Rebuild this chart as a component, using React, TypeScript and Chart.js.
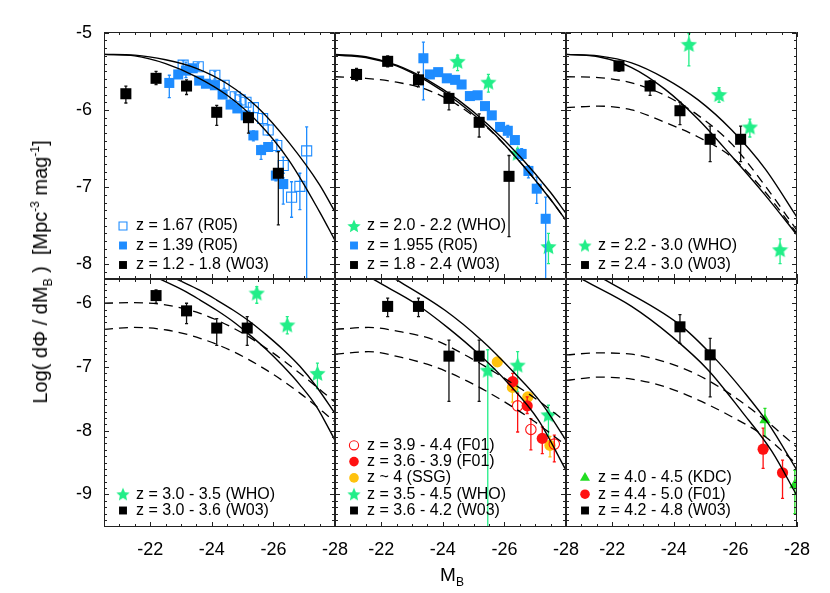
import React, { useEffect, useRef } from 'react';
import { Chart, registerables } from 'chart.js';
import { drawPoint } from 'chart.js/helpers';

Chart.register(...registerables);

const FONT = '"Liberation Sans", Arial, Helvetica, sans-serif';

// ---------------- axes ----------------
const X_RANGE = [-28, -20.5];
const Y_RANGE_TOP = [-8.19, -4.99];
const Y_RANGE_BOTTOM = [-9.51, -5.62];
const X_TICKS = [-22, -24, -26, -28];
const Y_TICKS_TOP = [-5, -6, -7, -8];
const Y_TICKS_BOTTOM = [-6, -7, -8, -9];

// ---------------- data: rows are [M_B, log phi, lower bound, upper bound] ----------------
// Panel 1
const P1_R05_OPEN = [
  [-23.07, -5.42, -5.48, -5.36], [-23.56, -5.44, -5.49, -5.39], [-24.10, -5.55, -5.60, -5.50],
  [-24.40, -5.68, -5.72, -5.63], [-24.76, -5.83, -5.88, -5.78], [-24.92, -5.87, -5.92, -5.82],
  [-25.11, -5.90, -5.96, -5.85], [-25.35, -5.97, -6.03, -5.91], [-25.65, -6.11, -6.18, -6.05],
  [-25.83, -6.26, -6.33, -6.19], [-26.11, -6.46, -6.54, -6.38], [-26.32, -6.72, -6.82, -6.61],
  [-26.59, -7.13, -7.39, -6.93], [-26.86, -6.99, -7.29, -6.82], [-27.08, -6.53, -8.60, -6.22],
];
const P1_R05 = [
  [-22.62, -5.65, -5.84, -5.55], [-22.91, -5.54, null, null], [-23.16, -5.49, -5.58, -5.38],
  [-23.38, -5.46, null, null], [-23.59, -5.62, null, null], [-23.81, -5.66, null, null],
  [-24.10, -5.68, null, null], [-24.35, -5.80, null, null], [-24.61, -5.93, null, null],
  [-24.83, -5.98, null, null], [-25.10, -6.07, null, null], [-25.35, -6.33, -6.40, -6.27],
  [-25.60, -6.52, -6.64, -6.46], [-25.83, -6.48, null, null], [-26.08, -6.85, -6.92, -6.79],
  [-26.32, -6.96, -7.22, -6.88],
];
const P1_W03 = [
  [-21.21, -5.79, -5.91, -5.69], [-22.19, -5.59, -5.67, -5.50], [-23.18, -5.69, -5.80, -5.61],
  [-24.16, -6.03, -6.20, -5.94], [-25.19, -6.10, -6.30, -6.03], [-26.16, -6.82, -7.49, -6.54],
];
const P1_FIT_A = [[-20.5, -5.28], [-21.5, -5.29], [-22.5, -5.35], [-23.5, -5.46], [-24.5, -5.66], [-25.5, -5.97], [-26.5, -6.42], [-27.5, -6.97], [-28, -7.32]];
const P1_FIT_B = [[-20.5, -5.28], [-21.5, -5.30], [-22.5, -5.40], [-23.5, -5.57], [-24.5, -5.81], [-25.5, -6.16], [-26.5, -6.65], [-27.5, -7.32], [-28, -7.69]];

// Panel 2
const P2_WHO = [[-24.48, -5.37, -5.49, -5.29], [-25.48, -5.64, -5.77, -5.54], [-26.43, -6.56, -6.62, -6.50], [-27.43, -7.77, -7.99, -7.60]];
const P2_R05 = [
  [-23.37, -5.33, -5.87, -5.12], [-23.58, -5.54, null, null], [-23.85, -5.51, null, null],
  [-24.13, -5.59, null, null], [-24.40, -5.61, null, null], [-24.61, -5.67, null, null],
  [-24.88, -5.82, null, null], [-25.13, -5.81, null, null], [-25.37, -5.95, null, null],
  [-25.59, -6.07, null, null], [-25.86, -6.22, null, null], [-26.11, -6.27, -6.35, -6.20],
  [-26.34, -6.39, null, null], [-26.56, -6.57, -6.65, -6.50], [-26.78, -6.79, -6.88, -6.72],
  [-27.05, -7.02, -7.21, -6.87], [-27.34, -7.41, -8.60, -7.13],
];
const P2_W03 = [
  [-21.20, -5.54, -5.62, -5.46], [-22.21, -5.37, -5.44, -5.30], [-23.21, -5.61, -5.70, -5.51],
  [-24.20, -5.85, -6.00, -5.77], [-25.18, -6.16, -6.35, -6.05], [-26.15, -6.86, -7.64, -6.59],
];
const P2_FIT_A = [[-20.5, -5.28], [-21.5, -5.31], [-22.5, -5.42], [-23.5, -5.61], [-24.5, -5.87], [-25.5, -6.20], [-26.5, -6.60], [-27.5, -7.07], [-28, -7.34]];
const P2_FIT_B = [[-20.5, -5.29], [-21.5, -5.32], [-22.5, -5.43], [-23.5, -5.63], [-24.5, -5.90], [-25.5, -6.24], [-26.5, -6.67], [-27.5, -7.16], [-28, -7.43]];
const P2_DASH = [[-20.5, -5.57], [-21.5, -5.59], [-22.5, -5.64], [-23.5, -5.74], [-24.5, -5.94], [-25.5, -6.25], [-26.5, -6.67], [-27.5, -7.16], [-28, -7.43]];

// Panel 3
const P3_WHO = [[-24.49, -5.15, -5.43, -5.01], [-25.47, -5.80, -5.90, -5.71], [-26.47, -6.22, -6.35, -6.12], [-27.45, -7.81, -7.99, -7.67]];
const P3_W03 = [
  [-22.22, -5.43, -5.50, -5.37], [-23.23, -5.69, -5.81, -5.62], [-24.20, -6.01, -6.19, -5.90],
  [-25.18, -6.38, -6.67, -6.21], [-26.17, -6.38, -6.67, -6.21],
];
const P3_FIT_A = [[-20.5, -5.28], [-21.55, -5.30], [-22.63, -5.39], [-23.71, -5.59], [-24.79, -5.87], [-25.88, -6.26], [-26.96, -6.76], [-28, -7.39]];
const P3_FIT_B = [[-20.5, -5.28], [-21.55, -5.31], [-22.63, -5.45], [-23.71, -5.73], [-24.79, -6.12], [-25.88, -6.60], [-26.96, -7.10], [-28, -7.62]];
const P3_DASH_A = [[-20.5, -5.57], [-21.55, -5.58], [-22.63, -5.65], [-23.71, -5.81], [-24.79, -6.07], [-25.88, -6.44], [-26.96, -6.98], [-28, -7.56]];
const P3_DASH_B = [[-20.5, -5.97], [-21.55, -5.95], [-22.63, -6.00], [-23.71, -6.16], [-24.79, -6.35], [-25.88, -6.61], [-26.96, -7.06], [-28, -7.60]];

// Panel 4
const P4_WHO = [[-25.46, -5.84, -6.00, -5.74], [-26.45, -6.34, -6.48, -6.21], [-27.43, -7.10, -7.34, -6.94]];
const P4_W03 = [[-22.19, -5.88, -6.00, -5.79], [-23.18, -6.12, -6.32, -6.00], [-24.16, -6.39, -6.66, -6.24], [-25.15, -6.39, -6.66, -6.21]];
const P4_FIT_A = [[-22.0, -5.42], [-22.91, -5.635], [-23.62, -5.80], [-24.16, -5.95], [-24.70, -6.11], [-25.24, -6.29], [-25.78, -6.50], [-26.32, -6.73], [-26.86, -6.99], [-27.40, -7.31], [-28, -7.73]];
const P4_FIT_B = [[-21.5, -5.45], [-22.37, -5.635], [-23.08, -5.80], [-23.62, -5.95], [-24.16, -6.11], [-24.70, -6.29], [-25.24, -6.50], [-25.78, -6.73], [-26.32, -6.99], [-26.86, -7.28], [-27.40, -7.62], [-28, -8.15]];
const P4_DASH_A = [[-20.5, -6.00], [-21.45, -5.99], [-22.54, -6.03], [-23.62, -6.16], [-24.70, -6.39], [-25.78, -6.71], [-26.86, -7.10], [-28, -7.55]];
const P4_DASH_B = [[-20.5, -6.41], [-21.45, -6.38], [-22.54, -6.42], [-23.62, -6.55], [-24.70, -6.76], [-25.78, -7.05], [-26.86, -7.41], [-28, -7.86]];

// Panel 5
const P5_F01_OPEN = [[-26.43, -7.61, -8.02, -7.41], [-26.86, -7.98, -8.30, -7.81], [-27.62, -8.21, -8.49, -8.07]];
const P5_F01 = [[-26.27, -7.23, -7.36, -7.10], [-26.74, -7.61, -7.73, -7.47], [-27.23, -8.12, -8.36, -7.94]];
const P5_SSG = [[-25.77, -6.92, -6.98, -6.86], [-26.26, -7.32, -7.55, -7.21], [-26.76, -7.47, -7.53, -7.41], [-27.48, -8.23, -8.41, -8.09]];
const P5_WHO = [[-25.46, -7.05, -10.0, -6.73], [-26.43, -6.97, -7.39, -6.76], [-27.43, -7.75, -8.09, -7.60]];
const P5_W03 = [[-22.21, -6.05, -6.21, -5.92], [-23.21, -6.05, -6.21, -5.92], [-24.20, -6.83, -7.54, -6.58], [-25.18, -6.83, -7.54, -6.58]];
const P5_FIT_A = [[-22.0, -5.50], [-22.50, -5.635], [-24.07, -6.11], [-25.26, -6.58], [-26.24, -7.05], [-27.21, -7.57], [-28, -8.15]];
const P5_FIT_B = [[-21.0, -5.40], [-21.78, -5.635], [-23.10, -6.00], [-24.18, -6.39], [-25.15, -6.79], [-26.13, -7.26], [-27.10, -7.83], [-28, -8.62]];
const P5_DASH_A = [[-20.5, -6.41], [-21.58, -6.38], [-22.66, -6.45], [-23.75, -6.58], [-24.83, -6.84], [-25.91, -7.15], [-26.99, -7.49], [-28, -7.86]];
const P5_DASH_B = [[-20.5, -6.80], [-21.58, -6.76], [-22.66, -6.85], [-23.75, -7.00], [-24.83, -7.23], [-25.91, -7.52], [-26.99, -7.86], [-28, -8.23]];

// Panel 6
const P6_KDC = [[-26.96, -7.83, -8.09, -7.65], [-27.93, -8.85, -9.30, -8.62]];
const P6_F01 = [[-26.90, -8.29, -8.59, -7.96], [-27.53, -8.66, -9.06, -8.46]];
const P6_W03 = [[-24.20, -6.37, -6.63, -6.18], [-25.18, -6.81, -7.47, -6.55]];
const P6_FIT_A = [[-21.0, -5.42], [-21.77, -5.635], [-24.15, -6.32], [-25.23, -6.81], [-26.31, -7.41], [-27.07, -7.89], [-28, -8.62]];
const P6_FIT_B = [[-20.5, -5.48], [-21.06, -5.635], [-22.63, -6.05], [-23.93, -6.52], [-25.12, -7.05], [-26.21, -7.70], [-27.18, -8.32], [-28, -9.02]];
const P6_DASH_A = [[-20.5, -6.81], [-21.55, -6.78], [-22.63, -6.80], [-23.71, -6.92], [-24.80, -7.13], [-25.88, -7.44], [-26.96, -7.83], [-28, -8.26]];
const P6_DASH_B = [[-20.5, -7.21], [-21.55, -7.16], [-22.63, -7.19], [-23.71, -7.31], [-24.80, -7.52], [-25.88, -7.78], [-26.96, -8.09], [-28, -8.53]];

// ---------------- panel definitions ----------------
const PANELS = [
  { col: 0, row: 0, fits: [P1_FIT_A, P1_FIT_B], dashes: [], series: [
    { kind: 'R05open', rows: P1_R05_OPEN, label: 'z = 1.67 (R05)' },
    { kind: 'R05', rows: P1_R05, label: 'z = 1.39 (R05)' },
    { kind: 'W03', rows: P1_W03, label: 'z = 1.2 - 1.8 (W03)' },
  ] },
  { col: 1, row: 0, fits: [P2_FIT_A, P2_FIT_B], dashes: [P2_DASH], series: [
    { kind: 'WHO', rows: P2_WHO, label: 'z = 2.0 - 2.2 (WHO)' },
    { kind: 'R05', rows: P2_R05, label: 'z = 1.955 (R05)' },
    { kind: 'W03', rows: P2_W03, label: 'z = 1.8 - 2.4 (W03)' },
  ] },
  { col: 2, row: 0, fits: [P3_FIT_A, P3_FIT_B], dashes: [P3_DASH_A, P3_DASH_B], series: [
    { kind: 'WHO', rows: P3_WHO, label: 'z = 2.2 - 3.0 (WHO)' },
    { kind: 'W03', rows: P3_W03, label: 'z = 2.4 - 3.0 (W03)' },
  ] },
  { col: 0, row: 1, fits: [P4_FIT_A, P4_FIT_B], dashes: [P4_DASH_A, P4_DASH_B], series: [
    { kind: 'WHO', rows: P4_WHO, label: 'z = 3.0 - 3.5 (WHO)' },
    { kind: 'W03', rows: P4_W03, label: 'z = 3.0 - 3.6 (W03)' },
  ] },
  { col: 1, row: 1, fits: [P5_FIT_A, P5_FIT_B], dashes: [P5_DASH_A, P5_DASH_B], series: [
    { kind: 'F01open', rows: P5_F01_OPEN, label: 'z = 3.9 - 4.4 (F01)' },
    { kind: 'F01', rows: P5_F01, label: 'z = 3.6 - 3.9 (F01)' },
    { kind: 'SSG', rows: P5_SSG, label: 'z ~ 4 (SSG)' },
    { kind: 'WHO', rows: P5_WHO, label: 'z = 3.5 - 4.5 (WHO)' },
    { kind: 'W03', rows: P5_W03, label: 'z = 3.6 - 4.2 (W03)' },
  ] },
  { col: 2, row: 1, fits: [P6_FIT_A, P6_FIT_B], dashes: [P6_DASH_A, P6_DASH_B], series: [
    { kind: 'KDC', rows: P6_KDC, label: 'z = 4.0 - 4.5 (KDC)' },
    { kind: 'F01', rows: P6_F01, label: 'z = 4.4 - 5.0 (F01)' },
    { kind: 'W03', rows: P6_W03, label: 'z = 4.2 - 4.8 (W03)' },
  ] },
];

// ---------------- layout / style ----------------
const COLS = [[104, 335], [335, 566], [566, 797]];
const ROWS = [[32, 279], [279, 527]];
const W = 830, H = 593;
const Y_AXIS_W = 40, X_AXIS_H = 30;

const BLUE = '#1E8CFF';
const GREEN = '#22EE88';
const KGREEN = '#22DD22';
const RED = '#FF1111';
const GOLD = '#FFC20E';

function makeStar(size: number, color: string) {
  const c = document.createElement('canvas');
  c.width = size; c.height = size;
  const g = c.getContext('2d')!;
  const cx = size / 2, cy = size / 2 + size * 0.04;
  const R = size / 2, r = R * 0.47;
  g.beginPath();
  for (let i = 0; i < 10; i++) {
    const ang = -Math.PI / 2 + (i * Math.PI) / 5;
    const rr = i % 2 === 0 ? R : r;
    const x = cx + rr * Math.cos(ang), y = cy + rr * Math.sin(ang);
    if (i === 0) g.moveTo(x, y); else g.lineTo(x, y);
  }
  g.closePath();
  g.fillStyle = color;
  g.fill();
  return c;
}

function kindStyles() {
  const big = makeStar(17, GREEN);
  const small = makeStar(14, GREEN);
  return {
    W03: { ps: 'rect', r: 7.8, fill: '#000', stroke: '#000', bw: 0, err: '#111', lr: 5.6, order: 2 },
    R05: { ps: 'rect', r: 7.1, fill: BLUE, stroke: BLUE, bw: 0, err: BLUE, lr: 5.6, order: 4 },
    R05open: { ps: 'rect', r: 7.1, fill: 'rgba(0,0,0,0)', stroke: BLUE, bw: 1.1, err: BLUE, lr: 5.6, order: 6 },
    WHO: { ps: big, lps: small, r: 8, fill: GREEN, stroke: GREEN, bw: 0, err: GREEN, lr: 6, order: 8 },
    F01: { ps: 'circle', r: 5.6, fill: RED, stroke: RED, bw: 0, err: RED, lr: 4.8, order: 4 },
    F01open: { ps: 'circle', r: 5.2, fill: 'rgba(0,0,0,0)', stroke: RED, bw: 1.1, err: RED, lr: 4.6, order: 3 },
    SSG: { ps: 'circle', r: 5.6, fill: GOLD, stroke: GOLD, bw: 0, err: GOLD, lr: 4.8, order: 6 },
    KDC: { ps: 'triangle', r: 6.5, fill: KGREEN, stroke: KGREEN, bw: 0, err: KGREEN, lr: 5.8, order: 4 },
  } as Record<string, any>;
}

function errorData(rows: any[]) {
  const cap = 0.05;
  const out: any[] = [];
  rows.forEach((r) => {
    const [m, , lo, hi] = r;
    if (lo == null || hi == null) return;
    out.push({ x: m, y: lo }, { x: m, y: hi }, { x: m, y: null });
    out.push({ x: m - cap, y: lo }, { x: m + cap, y: lo }, { x: m, y: null });
    out.push({ x: m - cap, y: hi }, { x: m + cap, y: hi }, { x: m, y: null });
  });
  return out;
}

function frameTicksPlugin() {
  return {
    id: 'frameTicks',
    afterDraw(chart: any) {
      const { ctx, chartArea: a, scales } = chart;
      const xs = scales.x, ys = scales.y;
      ctx.save();
      ctx.strokeStyle = '#222';
      ctx.lineWidth = 1;
      ctx.beginPath();
      ctx.rect(a.left + 0.5, a.top + 0.5, a.right - a.left - 1, a.bottom - a.top - 1);
      ctx.stroke();
      ctx.beginPath();
      for (let k = X_RANGE[0] * 2; k <= X_RANGE[1] * 2; k++) {
        const v = k / 2;
        const major = k % 4 === 0;
        const len = major ? 5 : 3;
        const px = Math.round(xs.getPixelForValue(v)) + 0.5;
        ctx.moveTo(px, a.bottom); ctx.lineTo(px, a.bottom - len);
        ctx.moveTo(px, a.top); ctx.lineTo(px, a.top + len);
      }
      for (let k = Math.ceil(ys.min * 10); k <= Math.floor(ys.max * 10); k++) {
        const major = k % 10 === 0;
        const len = major ? 5 : 3;
        const py = Math.round(ys.getPixelForValue(k / 10)) + 0.5;
        ctx.moveTo(a.left, py); ctx.lineTo(a.left + len, py);
        ctx.moveTo(a.right, py); ctx.lineTo(a.right - len, py);
      }
      ctx.stroke();
      ctx.restore();
    },
  };
}

function legendPlugin(items: any[], row: number) {
  const spacing = row === 0 ? 19.5 : 16.3;
  const bottomOff = row === 0 ? 14 : 16.5;
  return {
    id: 'panelLegend',
    afterDraw(chart: any) {
      const { ctx, chartArea: a } = chart;
      ctx.save();
      items.forEach((it, i) => {
        const y = a.bottom - bottomOff - (items.length - 1 - i) * spacing;
        const st = it.st;
        ctx.fillStyle = st.fill;
        ctx.strokeStyle = st.stroke;
        ctx.lineWidth = st.bw;
        drawPoint(ctx, { pointStyle: st.lps || st.ps, radius: st.lr, borderWidth: st.bw, rotation: 0 } as any, a.left + 19, y);
        ctx.fillStyle = '#000';
        ctx.font = '16px ' + FONT;
        ctx.textBaseline = 'middle';
        ctx.textAlign = 'left';
        ctx.fillText(it.label, a.left + 32, y);
      });
      ctx.restore();
    },
  };
}

function buildConfig(p: any, styles: Record<string, any>) {
  const [L, R] = COLS[p.col];
  const [T, B] = ROWS[p.row];
  const showY = p.col === 0;
  const showX = p.row === 1;
  const yr = p.row === 0 ? Y_RANGE_TOP : Y_RANGE_BOTTOM;
  const yt = p.row === 0 ? Y_TICKS_TOP : Y_TICKS_BOTTOM;

  const datasets: any[] = [];
  p.fits.forEach((c: number[][]) => datasets.push({
    data: c.map(([x, y]) => ({ x, y })), showLine: true, pointRadius: 0, borderColor: '#000',
    borderWidth: 1.4, cubicInterpolationMode: 'monotone', fill: false, order: 0,
  }));
  p.dashes.forEach((c: number[][]) => datasets.push({
    data: c.map(([x, y]) => ({ x, y })), showLine: true, pointRadius: 0, borderColor: '#000',
    borderWidth: 1.3, borderDash: [9, 6], cubicInterpolationMode: 'monotone', fill: false, order: 0,
  }));
  p.series.forEach((s: any) => {
    const st = styles[s.kind];
    datasets.push({
      data: errorData(s.rows), showLine: true, spanGaps: false, pointRadius: 0,
      borderColor: st.err, borderWidth: 1.3, fill: false, order: st.order + 0.5,
    });
    datasets.push({
      data: s.rows.map((r: any) => ({ x: r[0], y: r[1] })), showLine: false,
      pointStyle: st.ps, pointRadius: st.r, pointHoverRadius: st.r,
      pointBackgroundColor: st.fill, pointBorderColor: st.stroke, pointBorderWidth: st.bw,
      order: st.order,
    });
  });

  const legendItems = p.series.map((s: any) => ({ label: s.label, st: styles[s.kind] }));

  return {
    type: 'scatter',
    data: { datasets },
    options: {
      responsive: false,
      animation: false,
      devicePixelRatio: 1,
      events: [],
      layout: {
        autoPadding: false,
        padding: {
          left: showY ? L - Y_AXIS_W : L,
          right: W - R,
          top: T,
          bottom: showX ? H - B - X_AXIS_H : H - B,
        },
      },
      plugins: { legend: { display: false }, tooltip: { enabled: false }, title: { display: false } },
      scales: {
        x: {
          type: 'linear', reverse: true, min: X_RANGE[0], max: X_RANGE[1], display: showX,
          grid: { display: false }, border: { display: false },
          ticks: { font: { family: FONT, size: 18 }, color: '#000', padding: 4, maxRotation: 0, autoSkip: false, callback: (v: any) => String(v) },
          afterBuildTicks: (s: any) => { s.ticks = X_TICKS.map((v) => ({ value: v })); },
          afterFit: (s: any) => { s.height = showX ? X_AXIS_H : 0; },
        },
        y: {
          type: 'linear', min: yr[0], max: yr[1], display: showY,
          grid: { display: false }, border: { display: false },
          ticks: { font: { family: FONT, size: 18 }, color: '#000', padding: 4, autoSkip: false, callback: (v: any) => String(v) },
          afterBuildTicks: (s: any) => { s.ticks = yt.map((v) => ({ value: v })); },
          afterFit: (s: any) => { s.width = showY ? Y_AXIS_W : 0; },
        },
      },
    },
    plugins: [frameTicksPlugin(), legendPlugin(legendItems, p.row)],
  } as any;
}

export default function App() {
  const refs = useRef<(HTMLCanvasElement | null)[]>([]);
  useEffect(() => {
    const styles = kindStyles();
    const charts = PANELS.map((p, i) => new Chart(refs.current[i]!, buildConfig(p, styles)));
    return () => charts.forEach((c) => c.destroy());
  }, []);

  const subStyle: React.CSSProperties = { fontSize: 12, verticalAlign: 'sub', lineHeight: 0 };
  const supStyle: React.CSSProperties = { fontSize: 12, verticalAlign: 'super', lineHeight: 0 };

  return (
    <div style={{ position: 'absolute', left: 0, top: 0, width: W, height: H, background: '#fff', fontFamily: FONT, color: '#000' }}>
      {PANELS.map((_, i) => (
        <canvas key={i} ref={(el) => { refs.current[i] = el; }} width={W} height={H}
          style={{ position: 'absolute', left: 0, top: 0, width: W, height: H }} />
      ))}
      <div style={{ position: 'absolute', left: 40, top: 272, transform: 'translate(-50%, -50%) rotate(-90deg)', whiteSpace: 'pre', fontSize: 20, lineHeight: '22px' }}>
        Log( dΦ / dM<span style={subStyle}>B</span> )  [Mpc<span style={supStyle}>-3</span> mag<span style={supStyle}>-1</span>]
      </div>
      <div style={{ position: 'absolute', left: 452, top: 575, transform: 'translate(-50%, -50%)', whiteSpace: 'pre', fontSize: 19, lineHeight: '22px' }}>
        M<span style={subStyle}>B</span>
      </div>
    </div>
  );
}
